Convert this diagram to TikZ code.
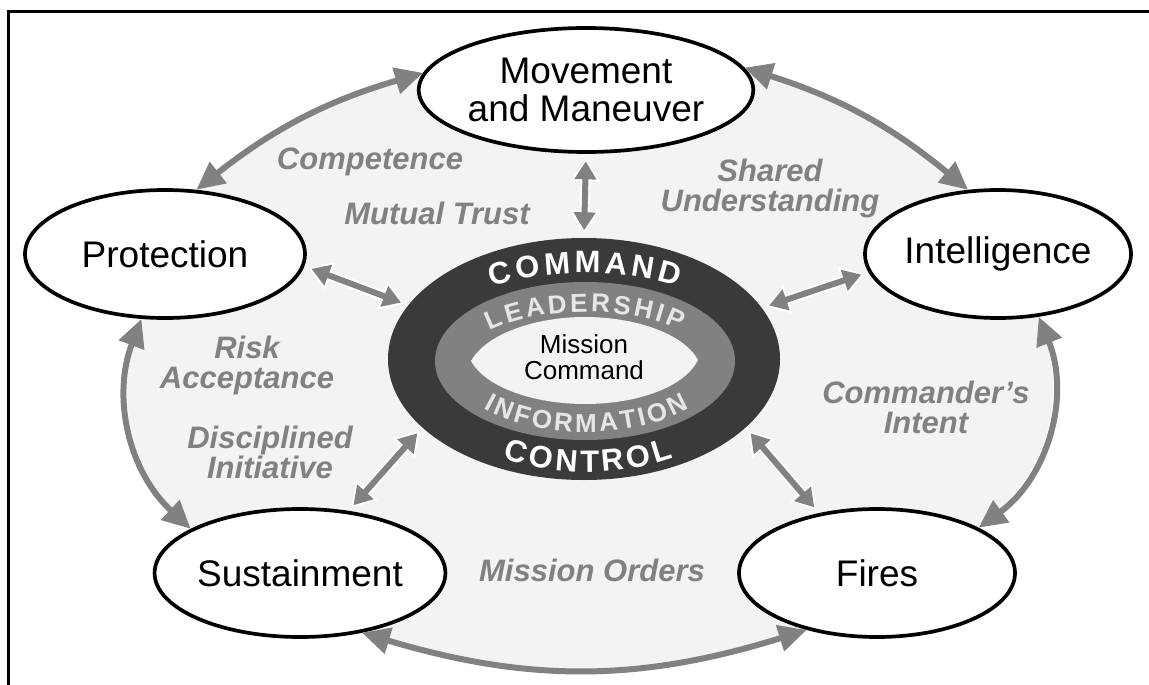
\documentclass[tikz,border=0pt]{standalone}
\usepackage{fontspec}
\usetikzlibrary{arrows.meta,shapes.geometric,decorations.text}
\newfontfamily\arial{Liberation Sans}
\definecolor{bglight}{RGB}{242,243,245}
\definecolor{agray}{RGB}{128,129,131}
\definecolor{darkring}{RGB}{58,58,60}
\definecolor{midring}{RGB}{128,129,132}
\definecolor{ltext}{RGB}{230,230,232}
\pgfdeclarelayer{bg}
\pgfsetlayers{bg,main}
\newcommand\ringbig{\arial\bfseries\fontsize{31}{31}\selectfont\color{white}}
\newcommand\ringsmall{\arial\bfseries\fontsize{26}{26}\selectfont\color{ltext}}
\newcommand\iarrow[2]{\draw[iaw] (#1) -- (#2); \draw[iag] (#1) -- (#2);}
\begin{document}
\begin{tikzpicture}[x=1pt,y=1pt,
  onode/.style={ellipse, draw=black, line width=3.7pt, fill=white, inner sep=0pt,
    font=\arial\fontsize{37}{38}\selectfont, align=center},
  lbl/.style={font=\arial\bfseries\itshape\fontsize{31}{30}\selectfont, text=agray, align=center, inner sep=0pt},
  oarrow/.style={draw=agray, line width=6pt, {Triangle[length=28pt,width=26pt]}-{Triangle[length=28pt,width=26pt]}},
  iaw/.style={draw=white, line width=10pt, shorten <=4.5pt, shorten >=4.5pt, {Triangle[length=23pt,width=28pt]}-{Triangle[length=23pt,width=28pt]}},
  iag/.style={draw=agray, line width=6pt, shorten <=7.5pt, shorten >=7.5pt, {Triangle[length=18pt,width=21pt]}-{Triangle[length=18pt,width=21pt]}},
  ringtext/.style={decorate, decoration={text along path, text align={fit to path}, text={#1}}}
]
\useasboundingbox (0,0) rectangle (1149,-685);
\draw[line width=2.5pt] (8.3,-685) -- (8.3,-11.3) -- (1149,-11.3);

% outer nodes
\node[onode, minimum width=312pt, minimum height=124pt] (m) at (586,-90) {Movement\\and Maneuver};
\node[onode, minimum width=280pt, minimum height=128pt] (p) at (165,-254) {Protection};
\node[onode, minimum width=266pt, minimum height=128pt] (i) at (998,-254) {Intelligence};
\node[onode, minimum width=274pt, minimum height=128pt] (s) at (300,-573) {Sustainment};
\node[onode, minimum width=276pt, minimum height=128pt] (f) at (877,-573) {Fires};

% background region
\begin{pgfonlayer}{bg}
\fill[bglight] (p.64) to[bend left=11] (m.174) -- (m.8) to[bend left=11] (i.115) -- (i.303)
  to[bend left=38] (f.24) -- (f.219) to[bend left=17] (s.316) -- (s.158) to[bend left=34] (p.250) -- cycle;
\end{pgfonlayer}

% central rings
\node[ellipse, fill=darkring, minimum width=392pt, minimum height=242pt, inner sep=0pt] (c) at (584,-359) {};
\node[ellipse, fill=midring, minimum width=300pt, minimum height=158pt, inner sep=0pt] (ring) at (585,-361) {};
\fill[bglight] (471,-361) .. controls (486,-334) and (535,-317) .. (585,-317)
  .. controls (636,-317) and (684,-334) .. (698,-360)
  .. controls (684,-388) and (636,-404) .. (585,-404)
  .. controls (535,-404) and (486,-388) .. (471,-361) -- cycle;
\node[font=\arial\fontsize{26}{26}\selectfont, align=center, inner sep=0pt] (mc) at (584,-357) {Mission\\Command};

\path[ringtext={|\ringbig|COMMAND}] ({585+175*cos(122.1)},{-360+87*sin(122.1)})
  arc[start angle=122.1, end angle=57.9, x radius=175, y radius=87];
\path[ringtext={|\ringsmall|LEADERSHIP}] ({585+120*cos(142.3)},{-360+48*sin(142.3)})
  arc[start angle=142.3, end angle=37.7, x radius=120, y radius=48];
\path[ringtext={|\ringsmall|INFORMATION}] ({586+139*cos(222.2)},{-360+72*sin(222.2)})
  arc[start angle=222.2, end angle=317.8, x radius=139, y radius=72];
\path[ringtext={|\ringbig|CONTROL}] ({588+175*cos(240.9)},{-360+112*sin(240.9)})
  arc[start angle=240.9, end angle=299.1, x radius=175, y radius=112];

% outer arrows
\draw[oarrow] (p.64) to[bend left=11] (m.174);
\draw[oarrow] (m.8) to[bend left=11] (i.115);
\draw[oarrow] (i.303) to[bend left=38] (f.24);
\draw[oarrow] (f.219) to[bend left=17] (s.316);
\draw[oarrow] (s.158) to[bend left=34] (p.250);

% inner arrows
\iarrow{m.south}{c.north}
\iarrow{p.355}{c.163}
\iarrow{i.188}{c.16}
\iarrow{s.52}{c.203}
\iarrow{f.134}{c.337}

% labels
\node[lbl] (l1) at (370,-162) {Competence};
\node[lbl] (l2) at (437,-213) {Mutual Trust};
\node[lbl] (l3) at (770,-188) {Shared\\Understanding};
\node[lbl] (l4) at (247,-365) {Risk\\Acceptance};
\node[lbl] (l5) at (270,-452) {Disciplined\\Initiative};
\node[lbl] (l6) at (926,-407) {Commander’s\\Intent};
\node[lbl] (l7) at (592,-570) {Mission Orders};
\end{tikzpicture}
\end{document}
